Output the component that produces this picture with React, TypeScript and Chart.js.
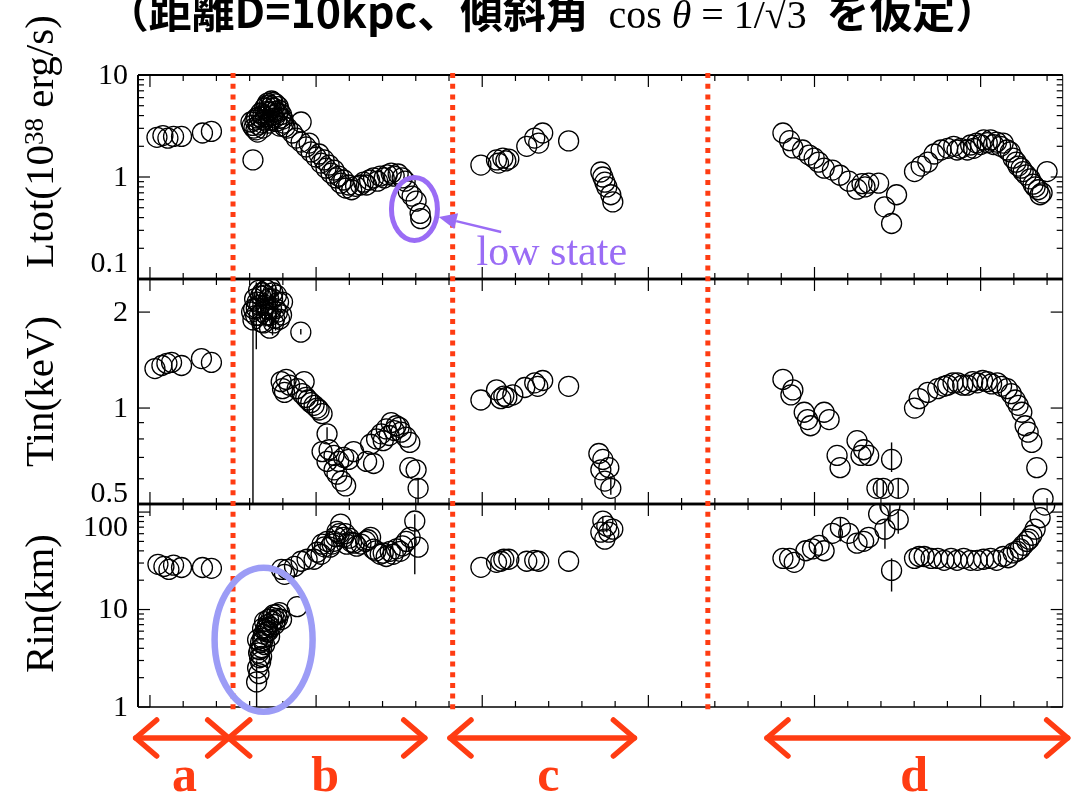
import React, { useEffect, useRef } from "react";
import { Chart, registerables } from "chart.js";

Chart.register(...registerables);

// Each observation: [day, value] or [day, value, low, high] when an error bar is shown.
type Obs = number[];

// Total luminosity Ltot (10^38 erg/s)
const ltotPoints: Obs[] = [
  // episode a
  [2.1, 2.45], [3.9, 2.55], [5.4, 2.4], [7.1, 2.5], [9.5, 2.5], [15.8, 2.7], [18.5, 2.8],
  // episode b
  [30.4, 3.46], [31.0, 1.47], [31.3, 3.02], [32.1, 3.79], [32.4, 2.76], [32.7, 3.24], [33.3, 4.24],
  [33.9, 3.02], [34.2, 3.62], [34.5, 4.75], [35.4, 5.31], [35.7, 3.38], [36.0, 4.34], [36.6, 5.56],
  [37.2, 4.75], [37.5, 3.79], [37.8, 5.2], [38.4, 4.24], [39.0, 3.16], [39.3, 3.79], [40.2, 3.38],
  [30.8, 3.2], [31.6, 3.6], [31.9, 2.9], [32.9, 3.9], [33.6, 3.4], [34.0, 4.0], [34.8, 3.9],
  [35.0, 5.0], [35.3, 4.4], [35.9, 5.1], [36.3, 3.6], [36.4, 4.9], [36.9, 4.0], [37.0, 5.4],
  [37.7, 4.4], [38.1, 3.5], [38.6, 4.9], [38.9, 4.5], [39.6, 4.1], [40.0, 3.7], [40.6, 3.1],
  [41.4, 3.02], [42.9, 2.7], [44.0, 2.41], [45.5, 3.46], [45.5, 2.2], [47.0, 1.97], [47.9, 2.15],
  [48.5, 1.76], [50.0, 1.57], [50.9, 1.68], [51.5, 1.37], [52.4, 1.47], [53.0, 1.22], [53.9, 1.31],
  [54.5, 1.09], [55.4, 1.17], [56.0, 0.98], [56.8, 1.02], [57.4, 0.87], [58.3, 0.935], [58.9, 0.78],
  [59.8, 0.835], [60.7, 0.75], [61.9, 0.81], [63.4, 0.835], [64.3, 0.89], [65.2, 0.835], [66.1, 0.935],
  [67.3, 0.98], [68.5, 0.91], [69.3, 1.02], [70.5, 0.98], [71.4, 1.05], [72.6, 1.09], [73.5, 1.02],
  [74.7, 1.07], [75.9, 0.98], [76.8, 0.91], [77.7, 0.73], [78.9, 0.65], [80.1, 0.58], [81.3, 0.44],
  [81.5, 0.39],
  // episode c
  [99.6, 1.31], [104.3, 1.47], [104.9, 1.37], [106.2, 1.53], [107.1, 1.44], [108.0, 1.5], [113.4, 2.0],
  [115.8, 2.41], [117.0, 2.15], [118.2, 2.7], [126.0, 2.26], [135.7, 1.12], [136.3, 1.0], [136.9, 0.89],
  [137.5, 0.8], [138.7, 0.67], [139.3, 0.57],
  // episode d
  [190.5, 2.7], [192.5, 2.27], [193.5, 1.93], [196.4, 1.84], [198.4, 1.64], [199.9, 1.53], [201.2, 1.4],
  [202.9, 1.22], [205.4, 1.17], [207.7, 1.04], [210.3, 0.91], [212.8, 0.76], [214.3, 0.86], [215.2, 0.8],
  [216.3, 0.87], [219.3, 0.87], [221.1, 0.51], [223.2, 0.35], [224.7, 0.67],
  [230.1, 1.13], [232.1, 1.28], [234.1, 1.4], [236.0, 1.68], [238.1, 1.84], [240.1, 1.91], [241.9, 2.0],
  [242.9, 1.84], [244.0, 1.91], [246.0, 1.84], [247.0, 2.06], [247.9, 1.91], [248.8, 2.15], [250.0, 2.08],
  [250.9, 2.31], [252.0, 2.17], [253.0, 2.31], [253.9, 2.08], [254.8, 2.2], [256.0, 2.0], [256.8, 2.15],
  [258.0, 1.84], [258.9, 1.76], [259.8, 1.53], [260.7, 1.4], [261.3, 1.28], [262.2, 1.22], [262.8, 1.13],
  [263.7, 1.05], [264.9, 0.96], [265.8, 0.85], [266.4, 0.8], [267.3, 0.75], [267.9, 0.67], [268.5, 0.7],
  [270.0, 1.13],
];

// Inner disk temperature Tin (keV)
const tinPoints: Obs[] = [
  // episode a
  [1.5, 1.33], [3.6, 1.36], [5.1, 1.38], [6.5, 1.39], [9.5, 1.36], [15.5, 1.43], [18.5, 1.39],
  // episode b
  [31.0, 1.89, 0.3, 2.3], [31.5, 2.2], [32.0, 2.06, 1.53, 2.48], [32.7, 2.34], [33.0, 2.1], [33.6, 1.86],
  [34.5, 2.26], [35.1, 1.96], [35.4, 2.04], [36.0, 1.78], [36.3, 2.38], [36.9, 2.2, 1.69, 2.45],
  [37.5, 1.91], [38.1, 2.26], [38.4, 2.0], [39.6, 1.96], [39.9, 2.15],
  [30.6, 2.0], [31.2, 2.05], [31.8, 1.95], [32.3, 2.15], [32.9, 1.95], [33.3, 2.25, 1.9, 2.5],
  [33.9, 2.0], [34.2, 1.85], [34.8, 2.1, 1.8, 2.45], [35.7, 2.2], [36.0, 1.95], [36.6, 2.05],
  [37.2, 1.85], [37.8, 2.05, 1.75, 2.4], [38.7, 2.15], [39.0, 1.9], [37.0, 2.3], [35.0, 2.35], [33.8, 2.3],
  [45.4, 1.73, 1.7, 1.77],
  [39.5, 1.21], [39.9, 1.15], [40.5, 1.12], [41.0, 1.23], [42.0, 1.18], [44.3, 1.15], [45.8, 1.11],
  [46.4, 1.21], [46.9, 1.08], [47.6, 1.06], [48.4, 1.04], [49.4, 1.02], [50.3, 1.0], [50.9, 0.986],
  [51.8, 0.96],
  [51.8, 0.73], [53.3, 0.83, 0.8, 0.87], [53.3, 0.68], [53.9, 0.74], [55.4, 0.71], [55.4, 0.64],
  [56.3, 0.62], [56.8, 0.68], [57.7, 0.59], [58.3, 0.7], [58.9, 0.57], [59.8, 0.69], [61.3, 0.73],
  [65.2, 0.68], [67.3, 0.67],
  [66.4, 0.77], [68.2, 0.8], [69.6, 0.83], [70.2, 0.79], [71.1, 0.86], [72.0, 0.82], [72.6, 0.9],
  [73.5, 0.85], [74.1, 0.88], [75.0, 0.87], [75.6, 0.84], [77.1, 0.81], [78.2, 0.78], [78.2, 0.65],
  [80.1, 0.64], [80.7, 0.56, 0.48, 0.6],
  // episode c
  [99.6, 1.06], [104.3, 1.14], [105.6, 1.07], [106.5, 1.09], [107.4, 1.08], [109.2, 1.1], [112.8, 1.16],
  [115.8, 1.2], [116.7, 1.17], [118.2, 1.22], [126.0, 1.17], [135.1, 0.72], [135.7, 0.64], [136.3, 0.69],
  [136.9, 0.59], [138.1, 0.65], [138.7, 0.56, 0.535, 0.61],
  // episode d
  [190.5, 1.23], [192.9, 1.1], [193.5, 1.14], [196.9, 0.97], [197.9, 0.92], [198.8, 0.88], [202.9, 0.97],
  [204.4, 0.92], [206.8, 0.71], [207.7, 0.65], [212.8, 0.79], [214.0, 0.71], [214.8, 0.74], [216.3, 0.71],
  [218.8, 0.56, 0.53, 0.59], [220.7, 0.56, 0.53, 0.59], [223.2, 0.69, 0.63, 0.78], [225.2, 0.56, 0.52, 0.6],
  [230.1, 1.0], [231.5, 1.07], [234.1, 1.12], [237.1, 1.15], [239.0, 1.17], [240.1, 1.18], [241.7, 1.2],
  [243.1, 1.2], [244.6, 1.18], [246.0, 1.18], [247.6, 1.21], [249.0, 1.2], [250.6, 1.22], [252.0, 1.21],
  [253.3, 1.19], [255.0, 1.2], [256.3, 1.17], [258.0, 1.15], [259.2, 1.11], [260.4, 1.06], [261.3, 1.02],
  [262.4, 0.97], [263.4, 0.88], [264.3, 0.84], [265.4, 0.78], [266.9, 0.65], [268.8, 0.52],
];

// Inner disk radius Rin (km)
const rinPoints: Obs[] = [
  // episode a
  [2.4, 29.1], [4.2, 27.7], [5.7, 25.8], [7.1, 28.5], [9.5, 27.0], [15.8, 27.0], [18.5, 26.5],
  // episode b
  [32.1, 1.81, 0.5, 3.0], [32.4, 2.52], [32.4, 4.9], [33.0, 3.2], [33.0, 3.87], [33.6, 4.06], [33.6, 3.3],
  [33.9, 5.1], [34.5, 4.36], [34.5, 7.5], [35.1, 5.9], [35.1, 6.5], [35.4, 7.0], [36.0, 5.3], [36.6, 8.3],
  [37.5, 7.0], [38.1, 8.9], [39.0, 9.3], [39.6, 7.9],
  [32.7, 3.6], [33.3, 4.6], [33.3, 2.9], [34.2, 5.6], [34.8, 6.2], [35.7, 7.9], [36.3, 6.6], [36.9, 7.5],
  [37.2, 8.8], [37.8, 7.8], [38.4, 8.1], [34.0, 4.8], [35.6, 6.0], [32.8, 2.2], [33.9, 6.4],
  [44.3, 10.7],
  [39.6, 25.8], [40.5, 23.0], [41.4, 25.8], [43.5, 27.7], [45.5, 31.3], [47.3, 32.8], [49.4, 32.8],
  [50.3, 38.7], [51.5, 36.9], [51.8, 46.8], [53.3, 50.1], [54.2, 43.6], [55.4, 50.1], [56.3, 63.3],
  [57.4, 75.2], [58.3, 55.1], [59.2, 46.8], [60.7, 49.0], [62.2, 44.7], [64.9, 50.0], [66.4, 55.0],
  [67.3, 41.6], [69.3, 36.9], [71.1, 35.0], [72.3, 39.6], [73.2, 36.9], [75.3, 39.6], [77.1, 50.0],
  [52.5, 44], [54.8, 47], [55.9, 56], [57.0, 60], [58.8, 60], [60.0, 54], [61.5, 48], [63.5, 47],
  [65.6, 52], [68.0, 40], [70.2, 38], [74.2, 42], [76.0, 45],
  [78.3, 55.0], [79.7, 81.0, 23, 95], [80.7, 43.6],
  // episode c
  [99.6, 27.1], [104.3, 30.5], [105.6, 31.3], [106.5, 32.8], [108.0, 32.8], [113.4, 31.3], [115.8, 32.0],
  [117.0, 31.3], [126.0, 31.3], [135.7, 62.2], [136.3, 80.8, 72, 90], [136.9, 52.7], [137.5, 71.6, 62, 82],
  [138.1, 62.2], [139.3, 66.8],
  // episode d
  [190.5, 33.5], [192.5, 33.5], [193.9, 30.5], [197.4, 40.1], [199.4, 41.9], [201.4, 45.6], [202.9, 40.1],
  [205.4, 60.5], [207.8, 69.5, 50, 88], [210.3, 60.5], [212.8, 48.0], [214.8, 50.1], [216.3, 55.0],
  [219.3, 95.6], [221.2, 66.8, 42, 84], [222.7, 116, 80, 140], [225.2, 83.5, 60, 100],
  [223.2, 25.2, 15.3, 33.5],
  [230.1, 33.5], [231.5, 35.0], [233.0, 35.0], [235.1, 33.5], [237.1, 33.5], [239.0, 32.0], [241.1, 33.5],
  [242.9, 32.0], [244.9, 33.5], [247.0, 32.0], [249.0, 32.0], [250.9, 32.8], [253.0, 33.5], [254.8, 32.0],
  [256.8, 35.0], [258.3, 34.0], [259.8, 38.1], [261.0, 39.6], [261.9, 41.9], [262.8, 45.6], [263.9, 50.0],
  [264.6, 52.7], [265.4, 57.8], [266.4, 66.8], [267.9, 87.6], [269.3, 118],
];

// Labelled values on each vertical axis
const ltotTickLabels = [10, 1, 0.1];
const tinTickLabels = [2, 1, 0.5];
const rinTickLabels = [100, 10, 1];

// Outburst episodes (days)
const episodeNames = ["a", "b", "c", "d"];
const episodeSpans = [[-4.3, 23.7], [23.7, 82.7], [90.3, 145.8], [185.7, 276.2]];
const episodeLabelDays = [10.4, 52.7, 119.9, 230.0];
const episodeBoundaries = [25.0, 91.1, 167.9];

// ---- appearance ----
const RED = "#ff3c12";
const PURPLE = "#9a6cf5";
const PERIWINKLE = "#9c9cf6";
const SERIF = "'Liberation Serif', 'Times New Roman', serif";
const CJK = "'Noto Sans CJK JP', sans-serif";

const panelIds = ["yL", "yT", "yR"];
const panelTickLabels: Record<string, number[]> = { yL: ltotTickLabels, yT: tinTickLabels, yR: rinTickLabels };
const tickLabelNudge: Record<string, Record<string, number>> = {
  yL: { "0.1": -16 },
  yT: { "0.5": -11 },
  yR: { "100": 15 },
};

const lowStateRing = { day: 79.6, value: 0.485, rx: 23, ry: 31.5 };
const lowStateArrow = { fromDay: 105.7, fromValue: 0.289, toDay: 86.9, toValue: 0.406 };
const lowStateText = { day: 98.3, value: 0.137 };
const rinRing = { day: 34.2, value: 4.91, rx: 49, ry: 72 };

const toXY = (pts: Obs[]) => pts.map((p) => ({ x: p[0], y: p[1] }));

function logAxis(min: number, max: number, stackWeight: number, weight: number) {
  return {
    type: "logarithmic" as const,
    position: "left" as const,
    stack: "panels",
    stackWeight,
    weight,
    min,
    max,
    grid: { display: false, drawTicks: false },
    border: { display: false },
    ticks: { display: false },
    afterFit: (s: any) => {
      s.width = 138;
    },
  };
}

function logTickValues(min: number, max: number) {
  const out: number[] = [];
  for (let k = Math.floor(Math.log10(min)); k <= Math.ceil(Math.log10(max)); k++) {
    for (let m = 1; m <= 9; m++) {
      const v = m * Math.pow(10, k);
      if (v >= min * 0.999 && v <= max * 1.001) out.push(v);
    }
  }
  return out;
}

const near = (a: number, b: number) => Math.abs(a - b) < 1e-6 * Math.max(1, Math.abs(b));

function line(ctx: CanvasRenderingContext2D, x1: number, y1: number, x2: number, y2: number) {
  ctx.beginPath();
  ctx.moveTo(x1, y1);
  ctx.lineTo(x2, y2);
  ctx.stroke();
}

function drawFrames(chart: any) {
  const ctx: CanvasRenderingContext2D = chart.ctx;
  const xs = chart.scales.x;
  const { left, right, top, bottom } = chart.chartArea;
  ctx.save();
  ctx.strokeStyle = "#000";
  ctx.lineCap = "butt";
  panelIds.forEach((id, i) => {
    const s = chart.scales[id];
    ctx.lineWidth = i === 0 ? 2.2 : 2.6;
    line(ctx, left, s.top, right, s.top);
    ctx.lineWidth = i === 2 ? 1.5 : 2.6;
    line(ctx, left, s.bottom, right, s.bottom);
    // day ticks, inward on both edges of each panel
    ctx.lineWidth = 1.2;
    for (let d = 0; d <= xs.max; d += 10) {
      const px = xs.getPixelForValue(d);
      const len = d % 50 === 0 ? 12 : 6;
      line(ctx, px, s.top, px, s.top + len);
      line(ctx, px, s.bottom, px, s.bottom - len);
    }
    // log ticks on left and right edges
    const labels = panelTickLabels[id];
    for (const v of logTickValues(s.min, s.max)) {
      const py = s.getPixelForValue(v);
      const major = labels.some((l) => near(l, v)) || near(Math.log10(v), Math.round(Math.log10(v)));
      const len = major ? 12 : 6;
      line(ctx, left, py, left + len, py);
      line(ctx, right, py, right - len, py);
    }
    // tick labels
    ctx.fillStyle = "#000";
    ctx.font = `30px ${SERIF}`;
    ctx.textAlign = "right";
    ctx.textBaseline = "middle";
    for (const v of labels) {
      const nudge = (tickLabelNudge[id] || {})[String(v)] || 0;
      ctx.fillText(String(v), left - 10, s.getPixelForValue(v) + nudge + 1);
    }
  });
  ctx.lineWidth = 2;
  line(ctx, left, top, left, bottom);
  ctx.lineWidth = 1;
  line(ctx, right, top, right, bottom);
  ctx.restore();
}

function drawVerticalText(
  ctx: CanvasRenderingContext2D,
  parts: { text: string; font: string; rise?: number }[],
  baseX: number,
  startY: number
) {
  ctx.save();
  ctx.translate(baseX, startY);
  ctx.rotate(-Math.PI / 2);
  ctx.textAlign = "left";
  ctx.textBaseline = "alphabetic";
  ctx.fillStyle = "#000";
  let x = 0;
  for (const p of parts) {
    ctx.font = p.font;
    ctx.fillText(p.text, x, -(p.rise || 0));
    x += ctx.measureText(p.text).width;
  }
  ctx.restore();
}

function drawAxisTitles(chart: any) {
  const ctx: CanvasRenderingContext2D = chart.ctx;
  const big = `41px ${SERIF}`;
  drawVerticalText(
    ctx,
    [
      { text: "Ltot(10", font: big },
      { text: "38", font: `27px ${SERIF}`, rise: 10 },
      { text: " erg/s)", font: big },
    ],
    53,
    chart.scales.yL.bottom - 11
  );
  drawVerticalText(ctx, [{ text: "Tin(keV)", font: big }], 53, chart.scales.yT.bottom - 37);
  drawVerticalText(ctx, [{ text: "Rin(km)", font: big }], 53, chart.scales.yR.bottom - 34);
}

function drawTitle(chart: any) {
  const ctx: CanvasRenderingContext2D = chart.ctx;
  const parts = [
    { t: "（距離D=10kpc、傾斜角", f: `bold 43px ${CJK}` },
    { t: "  cos ", f: `40px ${SERIF}` },
    { t: "θ", f: `italic 40px ${SERIF}` },
    { t: " = 1/√3  ", f: `40px ${SERIF}` },
    { t: "を仮定）", f: `bold 43px ${CJK}` },
  ];
  ctx.save();
  ctx.fillStyle = "#000";
  ctx.textBaseline = "alphabetic";
  ctx.textAlign = "left";
  let total = 0;
  for (const p of parts) {
    ctx.font = p.f;
    total += ctx.measureText(p.t).width;
  }
  // stretch the line to span its slot above the plot
  const x0 = 106;
  const span = 892;
  ctx.translate(x0, 28);
  ctx.scale(span / total, 1);
  let x = 0;
  for (const p of parts) {
    ctx.font = p.f;
    ctx.fillText(p.t, x, 0);
    x += ctx.measureText(p.t).width;
  }
  ctx.restore();
}

function drawErrorBars(chart: any) {
  const ctx: CanvasRenderingContext2D = chart.ctx;
  const xs = chart.scales.x;
  const sets: [string, Obs[]][] = [["yL", ltotPoints], ["yT", tinPoints], ["yR", rinPoints]];
  ctx.save();
  ctx.strokeStyle = "#000";
  ctx.lineWidth = 1.4;
  for (const [id, pts] of sets) {
    const s = chart.scales[id];
    for (const p of pts) {
      if (p.length < 4) continue;
      const px = xs.getPixelForValue(p[0]);
      const y1 = Math.min(s.bottom, s.getPixelForValue(p[2]));
      const y2 = Math.max(s.top, s.getPixelForValue(p[3]));
      line(ctx, px, y1, px, y2);
    }
  }
  ctx.restore();
}

function drawEpisodes(chart: any) {
  const ctx: CanvasRenderingContext2D = chart.ctx;
  const xs = chart.scales.x;
  const { top, bottom } = chart.chartArea;
  ctx.save();
  // dotted boundaries between episodes
  ctx.strokeStyle = RED;
  ctx.lineWidth = 5;
  ctx.setLineDash([5, 5.7]);
  for (const d of episodeBoundaries) {
    const px = xs.getPixelForValue(d);
    line(ctx, px, top - 2, px, bottom + 5);
  }
  ctx.setLineDash([]);
  // double arrows and letters below the plot
  const ay = bottom + 31;
  ctx.lineWidth = 5.5;
  ctx.lineCap = "round";
  ctx.lineJoin = "round";
  episodeSpans.forEach(([d0, d1], i) => {
    const x0 = xs.getPixelForValue(d0);
    const x1 = xs.getPixelForValue(d1);
    line(ctx, x0, ay, x1, ay);
    ctx.beginPath();
    ctx.moveTo(x0 + 21, ay - 18);
    ctx.lineTo(x0, ay);
    ctx.lineTo(x0 + 21, ay + 18);
    ctx.moveTo(x1 - 21, ay - 18);
    ctx.lineTo(x1, ay);
    ctx.lineTo(x1 - 21, ay + 18);
    ctx.stroke();
    ctx.fillStyle = RED;
    ctx.font = `bold 50px ${SERIF}`;
    ctx.textAlign = "center";
    ctx.textBaseline = "alphabetic";
    ctx.fillText(episodeNames[i], xs.getPixelForValue(episodeLabelDays[i]), bottom + 84);
  });
  ctx.restore();
}

function drawAnnotations(chart: any) {
  const ctx: CanvasRenderingContext2D = chart.ctx;
  const xs = chart.scales.x;
  const yL = chart.scales.yL;
  const yR = chart.scales.yR;
  ctx.save();
  // low-state ring
  ctx.strokeStyle = PURPLE;
  ctx.lineWidth = 5;
  ctx.beginPath();
  ctx.ellipse(
    xs.getPixelForValue(lowStateRing.day),
    yL.getPixelForValue(lowStateRing.value),
    lowStateRing.rx,
    lowStateRing.ry,
    0,
    0,
    Math.PI * 2
  );
  ctx.stroke();
  // pointer to the ring
  const fx = xs.getPixelForValue(lowStateArrow.fromDay);
  const fy = yL.getPixelForValue(lowStateArrow.fromValue);
  const tx = xs.getPixelForValue(lowStateArrow.toDay);
  const ty = yL.getPixelForValue(lowStateArrow.toValue);
  const ang = Math.atan2(ty - fy, tx - fx);
  const headLen = 18;
  const headHalf = 8;
  const bx = tx - headLen * Math.cos(ang);
  const by = ty - headLen * Math.sin(ang);
  ctx.lineWidth = 2.5;
  line(ctx, fx, fy, bx, by);
  ctx.fillStyle = PURPLE;
  ctx.beginPath();
  ctx.moveTo(tx, ty);
  ctx.lineTo(bx + headHalf * Math.sin(ang), by - headHalf * Math.cos(ang));
  ctx.lineTo(bx - headHalf * Math.sin(ang), by + headHalf * Math.cos(ang));
  ctx.closePath();
  ctx.fill();
  ctx.font = `42px ${SERIF}`;
  ctx.textAlign = "left";
  ctx.textBaseline = "alphabetic";
  ctx.fillText("low state", xs.getPixelForValue(lowStateText.day), yL.getPixelForValue(lowStateText.value));
  // ring around the small-radius points
  ctx.strokeStyle = PERIWINKLE;
  ctx.lineWidth = 6.5;
  ctx.beginPath();
  ctx.ellipse(
    xs.getPixelForValue(rinRing.day),
    yR.getPixelForValue(rinRing.value),
    rinRing.rx,
    rinRing.ry,
    0,
    0,
    Math.PI * 2
  );
  ctx.stroke();
  ctx.restore();
}

const figurePlugin = {
  id: "figure",
  beforeDraw(chart: any) {
    const ctx = chart.ctx;
    ctx.save();
    ctx.fillStyle = "#fff";
    ctx.fillRect(0, 0, chart.width, chart.height);
    ctx.restore();
  },
  afterDatasetsDraw(chart: any) {
    drawErrorBars(chart);
  },
  afterDraw(chart: any) {
    drawFrames(chart);
    drawAxisTitles(chart);
    drawTitle(chart);
    drawEpisodes(chart);
    drawAnnotations(chart);
  },
};

const markerStyle = {
  showLine: false,
  pointStyle: "circle" as const,
  pointRadius: 10,
  pointHoverRadius: 10,
  pointBorderWidth: 1.3,
  pointBorderColor: "#000",
  pointBackgroundColor: "rgba(0,0,0,0)",
};

export default function App() {
  const canvasRef = useRef<HTMLCanvasElement>(null);

  useEffect(() => {
    const canvas = canvasRef.current;
    if (!canvas) return;
    const chart = new Chart(canvas, {
      type: "scatter",
      data: {
        datasets: [
          { label: "Ltot", data: toXY(ltotPoints), yAxisID: "yL", ...markerStyle },
          { label: "Tin", data: toXY(tinPoints), yAxisID: "yT", ...markerStyle },
          { label: "Rin", data: toXY(rinPoints), yAxisID: "yR", ...markerStyle },
        ],
      },
      options: {
        responsive: false,
        animation: false,
        devicePixelRatio: 1,
        events: [],
        layout: { padding: { left: 0, right: 1, top: 75, bottom: 88 } },
        plugins: { legend: { display: false }, tooltip: { enabled: false } },
        scales: {
          x: { type: "linear", min: -3.6, max: 274.7, display: false },
          yL: logAxis(0.1, 10, 204, 3),
          yT: logAxis(0.5, 2.54, 225, 2),
          yR: logAxis(1, 121, 203, 1),
        },
      },
      plugins: [figurePlugin],
    });
    return () => chart.destroy();
  }, []);

  return (
    <div style={{ position: "absolute", left: 0, top: 0, width: 1074, height: 795, background: "#fff" }}>
      <canvas ref={canvasRef} width={1074} height={795} style={{ display: "block", width: 1074, height: 795 }} />
    </div>
  );
}
